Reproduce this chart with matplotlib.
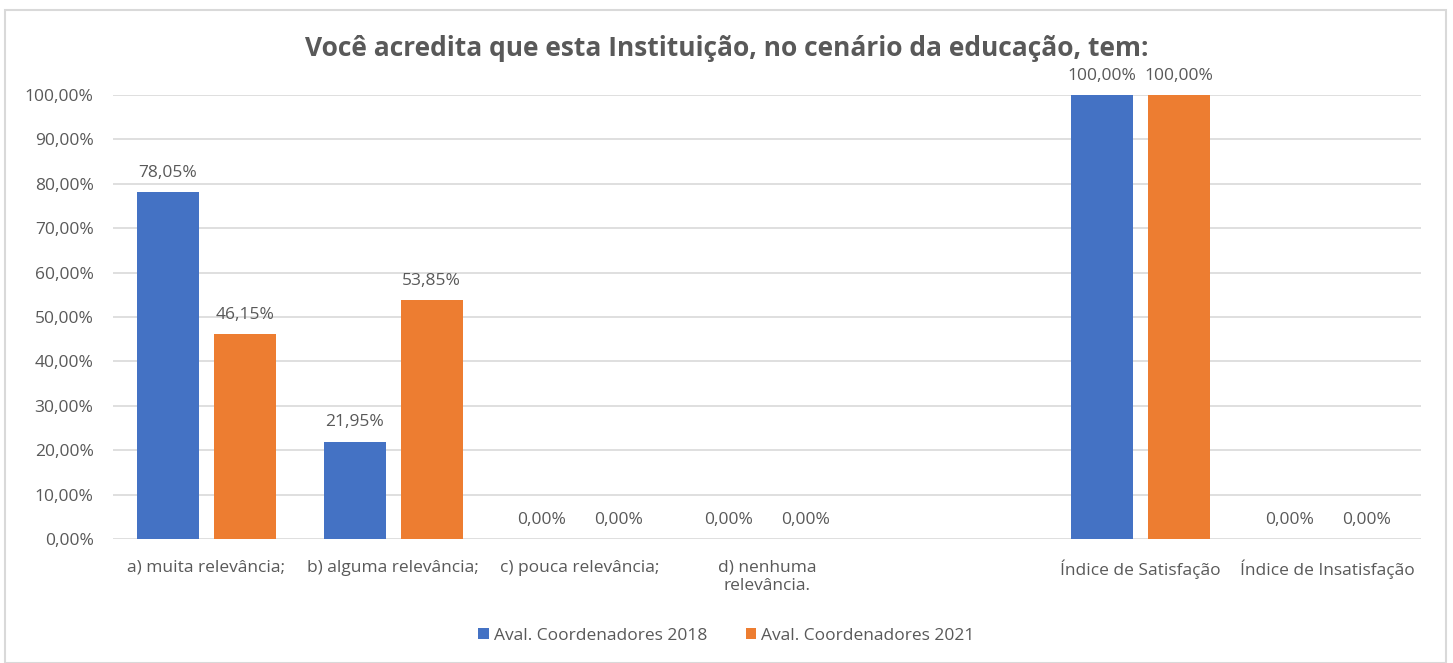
import numpy as np
import matplotlib.pyplot as plt
from matplotlib.patches import Rectangle

# データ
categorias = ['a) muita relevância;', 'b) alguma relevância;', 'c) pouca relevância;',
              'd) nenhuma\nrelevância.', '', 'Índice de Satisfação', 'Índice de Insatisfação']
aval_2018 = [78.05, 21.95, 0.0, 0.0, np.nan, 100.0, 0.0]
aval_2021 = [46.15, 53.85, 0.0, 0.0, np.nan, 100.0, 0.0]
series = ['Aval. Coordenadores 2018', 'Aval. Coordenadores 2021']
cores = ['#4472C4', '#ED7D31']
titulo = 'Você acredita que esta Instituição, no cenário da educação, tem:'

plt.rcParams['font.family'] = ['Open Sans', 'DejaVu Sans']
cinza = '#595959'
fs = 12.5

fig = plt.figure(figsize=(14.53, 6.63), dpi=100)
ax = fig.add_axes([113 / 1453, 1 - 539 / 663, 1308 / 1453, 444 / 663])

x = np.arange(len(categorias))
largura = 0.33
desloc = 0.206

for i, (vals, nome, cor) in enumerate(zip([aval_2018, aval_2021], series, cores)):
    pos = x + (-desloc if i == 0 else desloc)
    v = np.array(vals, dtype=float)
    ax.bar(pos, np.nan_to_num(v) / 100, largura, color=cor, label=nome, zorder=3)
    for p, val in zip(pos, v):
        if np.isnan(val):
            continue
        ax.annotate(f'{val:.2f}%'.replace('.', ','), (p, val / 100),
                    xytext=(0, 8), textcoords='offset points',
                    ha='center', va='bottom', fontsize=fs, color=cinza)

ax.set_xlim(-0.5, len(categorias) - 0.5)
ax.set_ylim(0, 1)
ax.set_yticks(np.arange(0, 1.01, 0.1))
ax.set_yticklabels([f'{t * 100:.2f}%'.replace('.', ',') for t in np.arange(0, 1.01, 0.1)])
ax.set_xticks(x)
ax.set_xticklabels(categorias)
ax.tick_params(axis='both', length=0, labelsize=fs, colors=cinza)
ax.tick_params(axis='x', pad=15)
ax.tick_params(axis='y', pad=14)
ax.grid(axis='y', color='#D9D9D9', linewidth=1.2, zorder=0)
for s in ax.spines.values():
    s.set_visible(False)

fig.text(0.5, 1 - 48 / 663, titulo, ha='center', va='center',
         fontsize=19, fontweight='bold', color=cinza)

fig.legend(loc='center', bbox_to_anchor=(0.5, 1 - 636 / 663), ncol=2, frameon=False,
           fontsize=fs, labelcolor=cinza, handlelength=0.6, handleheight=0.6,
           handletextpad=0.3, columnspacing=2.2)

# borda
fig.patches.append(Rectangle((5 / 1453, 0), 1441 / 1453, 1 - 10 / 663,
                             transform=fig.transFigure, fill=False,
                             edgecolor='#D9D9D9', linewidth=1.5))

fig.savefig('out.png', dpi=100)
